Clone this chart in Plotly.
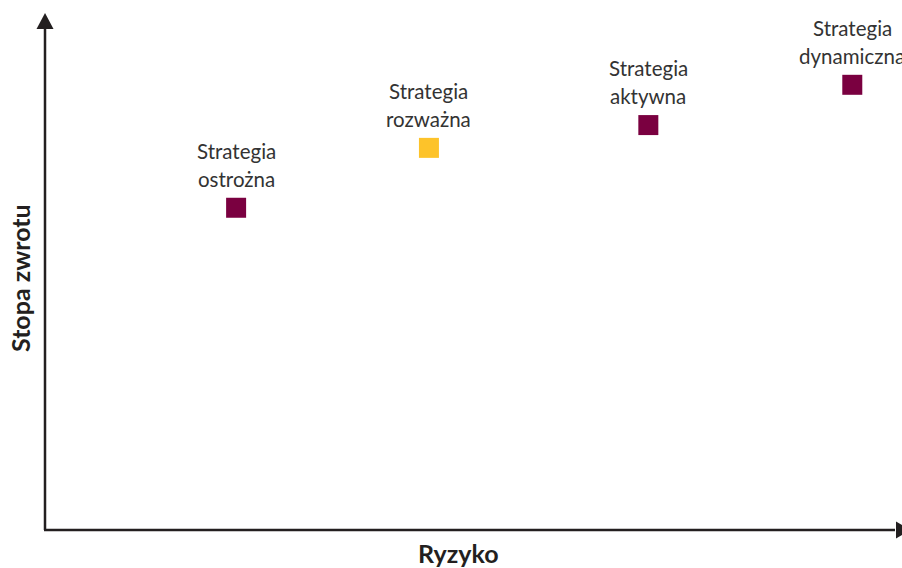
import plotly.graph_objects as go

# Data
strategies_line1 = ["Strategia", "Strategia", "Strategia", "Strategia"]
strategies_line2 = ["ostrożna", "rozważna", "aktywna", "dynamiczna"]
risk = [2.23, 4.48, 7.04, 9.42]
ret = [6.08, 7.21, 7.64, 8.40]
colors = ["#7A0040", "#FDC32A", "#7A0040", "#7A0040"]

W, H = 902, 568
L, B = 45, 38
PW, PH = W - L, H - B
axis_color = "#231F20"

fig = go.Figure()
fig.add_trace(go.Scatter(
    x=risk, y=ret, mode="markers",
    marker=dict(symbol="square", size=20, color=colors, line=dict(width=0)),
    hoverinfo="skip", showlegend=False, cliponaxis=False,
))

annotations = []
for xv, yv, l1, l2 in zip(risk, ret, strategies_line1, strategies_line2):
    annotations.append(dict(x=xv, y=yv, text=l2, showarrow=False, yshift=29,
                            xanchor="center", yanchor="middle",
                            font=dict(family="Lato", size=20.5, color="#333333")))
    annotations.append(dict(x=xv, y=yv, text=l1, showarrow=False, yshift=57,
                            xanchor="center", yanchor="middle",
                            font=dict(family="Lato", size=20.5, color="#333333")))

# axis titles
annotations.append(dict(xref="paper", yref="paper", x=(458 - L) / PW, y=-(553 - PH) / PH,
                        xanchor="center", yanchor="middle",
                        text="<b>Ryzyko</b>", showarrow=False,
                        font=dict(family="Lato", size=25, color=axis_color)))
annotations.append(dict(xref="paper", yref="paper", x=-(L - 20) / PW, y=(PH - 278) / PH,
                        xanchor="center", yanchor="middle",
                        text="<b>Stopa zwrotu</b>", showarrow=False, textangle=-90,
                        font=dict(family="Lato", size=25, color=axis_color)))

def px(xp):
    return (xp - L) / PW

def py(yp):
    return (PH - yp) / PH

shapes = [
    dict(type="line", xref="paper", yref="paper", x0=px(45), x1=px(45), y0=py(530), y1=py(25),
         line=dict(color=axis_color, width=2.5)),
    dict(type="line", xref="paper", yref="paper", x0=px(44), x1=px(895), y0=py(530), y1=py(530),
         line=dict(color=axis_color, width=2.5)),
    dict(type="path", xref="paper", yref="paper",
         path=f"M {px(45)} {py(13)} L {px(36.5)} {py(29)} L {px(53.5)} {py(29)} Z",
         fillcolor=axis_color, line=dict(width=0)),
    dict(type="path", xref="paper", yref="paper",
         path=f"M {px(911)} {py(530)} L {px(896)} {py(521.5)} L {px(896)} {py(538.5)} Z",
         fillcolor=axis_color, line=dict(width=0)),
]

fig.update_layout(
    width=W, height=H,
    margin=dict(l=L, r=0, t=0, b=B, autoexpand=False),
    paper_bgcolor="white", plot_bgcolor="white",
    xaxis=dict(range=[0, 10], visible=False, fixedrange=True),
    yaxis=dict(range=[0, 10], visible=False, fixedrange=True),
    annotations=annotations, shapes=shapes,
    showlegend=False,
)

fig.write_html("out.html", config={"displayModeBar": False},
               post_script="document.body.style.margin='0';document.body.style.overflow='hidden';")
